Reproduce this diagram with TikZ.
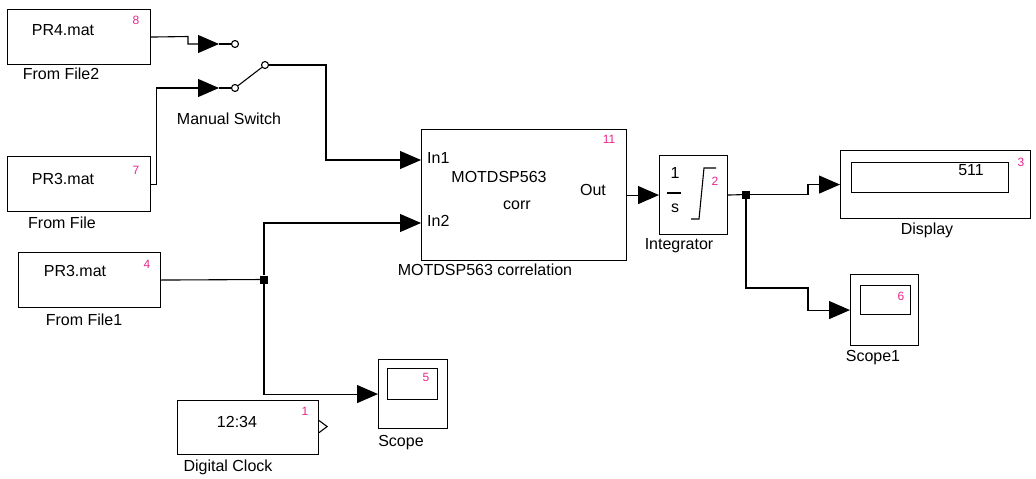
\documentclass[tikz,border=0pt]{standalone}
\usepackage{fontspec}
\setmainfont{Liberation Sans}
\usetikzlibrary{arrows.meta,calc}
\definecolor{pinkc}{RGB}{232,38,138}
\tikzset{
  blk/.style={draw, line width=1.1pt, inner sep=0pt, anchor=north west},
  lbl/.style={font=\fontsize{16}{19}\selectfont, inner sep=0pt},
  num/.style={font=\fontsize{12}{14}\selectfont, text=pinkc, inner sep=0pt},
  wire/.style={line width=1.1pt},
  arr/.style={wire, -{Triangle[length=21pt,width=18pt]}},
  port/.style={circle, draw, line width=1.1pt, minimum size=7pt, inner sep=0pt},
  junc/.style={fill=black, minimum size=8pt, inner sep=0pt}
}
\begin{document}
\begin{tikzpicture}[x=1pt,y=-1pt]
\useasboundingbox (0,0) rectangle (1036,479);

% From File2
\node[blk, minimum width=143pt, minimum height=55pt] (ff2) at (7,9) {};
\node[lbl] (ff2t) at (63,30) {PR4.mat};
\node[num] (ff2n) at (136,20) {8};
\node[lbl] (ff2l) at (61,74) {From File2};

% From File
\node[blk, minimum width=143pt, minimum height=55pt] (ff) at (7,156) {};
\node[lbl] (fft) at (63,179) {PR3.mat};
\node[num] (ffn) at (136,170) {7};
\node[lbl] (ffl) at (62,223) {From File};

% From File1
\node[blk, minimum width=142pt, minimum height=55pt] (ff1) at (18,252) {};
\node[lbl] (ff1t) at (75,271) {PR3.mat};
\node[num] (ff1n) at (147,264) {4};
\node[lbl] (ff1l) at (84,320) {From File1};

% Manual switch
\coordinate (sw1in) at (219,44);
\coordinate (sw2in) at (219,88);
\node[port] (c1) at (235,44) {};
\node[port] (c2) at (235,88) {};
\node[port] (c3) at (265,65) {};
\draw[wire] (sw1in) -- (c1.west);
\draw[wire] (sw2in) -- (c2.west);
\draw[wire] (c2) -- (c3);
\node[lbl] (swl) at (229,119) {Manual Switch};

% Correlation block
\node[blk, minimum width=205pt, minimum height=131pt] (corr) at (421,129) {};
\coordinate (in1) at (421,160);
\coordinate (in2) at (421,223);
\node[lbl, anchor=west] (in1t) at (427,158) {In1};
\node[lbl, anchor=west] (in2t) at (427,221) {In2};
\node[lbl] (corrt1) at (499,177) {MOTDSP563};
\node[lbl] (corrt2) at (517,205) {corr};
\node[lbl] (corrout) at (593,190) {Out};
\node[num] (corrn) at (609,139) {11};
\node[lbl] (corrl) at (485,270) {MOTDSP563 correlation};

% Integrator
\node[blk, minimum width=68pt, minimum height=79pt] (integ) at (659,155) {};
\node[lbl] (int1) at (675,173) {1};
\node[lbl] (ints) at (675,208) {s};
\draw[wire] (667,193) -- (681,193);
\draw[wire] (691,219) -- (699,219) -- (704,168) -- (716,168);
\node[num] (intn) at (715,181) {2};
\node[lbl] (intl) at (679,246) {Integrator};

% Display
\node[blk, minimum width=190pt, minimum height=68pt] (disp) at (840,150) {};
\node[blk, minimum width=157pt, minimum height=30pt] (dispin) at (851,162) {};
\node[lbl] (dispv) at (971,170) {511};
\node[num] (dispn) at (1021,162) {3};
\node[lbl] (displ) at (927,230) {Display};

% Scope1
\node[blk, minimum width=68pt, minimum height=71pt] (sc1) at (850,274) {};
\node[blk, minimum width=50pt, minimum height=29pt] (sc1in) at (860,285) {};
\node[num] (sc1n) at (901,296) {6};
\node[lbl] (sc1l) at (873,358) {Scope1};

% Scope
\node[blk, minimum width=69pt, minimum height=69pt] (sc) at (378,359) {};
\node[blk, minimum width=50pt, minimum height=31pt] (scin) at (387,368) {};
\node[num] (scn) at (426,377) {5};
\node[lbl] (scl) at (401,443) {Scope};

% Digital Clock
\node[blk, minimum width=141pt, minimum height=54pt] (dc) at (177,400) {};
\node[lbl] (dct) at (237,422) {12:34};
\node[num] (dcn) at (305,411) {1};
\node[lbl] (dcl) at (228,467) {Digital Clock};
\draw[wire] ($(dc.east)+(0,-7)$) -- ++(8,6) -- ++(-8,6);

% Junctions
\node[junc] (j1) at (264,279.5) {};
\node[junc] (j2) at (746,194.5) {};

% Connectors
\draw[arr] (ff2.east) -- (188,36.5) -- (188,44) -- (sw1in);
\draw[arr] (ff.east) -- ++(5,0) |- (sw2in);
\draw[arr] (c3.east) -- (326,65) |- (in1);
\draw[wire] (ff1.east) -- (j1);
\draw[arr] (j1) |- (in2);
\draw[arr] (j1) |- (sc.west);
\draw[arr] (corr.east) -- (integ.west);
\draw[wire] (integ.east) -- (j2);
\draw[arr] (j2) -- (808,194.5) |- (disp.west);
\draw[arr] (j2) |- (808,288) |- (sc1.west);
\end{tikzpicture}
\end{document}
